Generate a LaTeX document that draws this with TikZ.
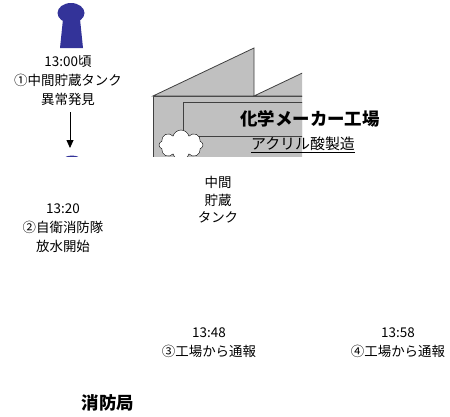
\documentclass[tikz,border=0pt]{standalone}
\usepackage{fontspec}
\setmainfont{Noto Sans CJK JP}
\usetikzlibrary{arrows.meta,shapes.symbols}
\definecolor{navy}{HTML}{333399}
\definecolor{roofgray}{HTML}{C0C0C0}
\begin{document}
\begin{tikzpicture}[
    x=1bp, y=-1bp,
    note/.style={align=center, inner sep=1pt, font=\fontsize{13.5}{19}\selectfont},
    heading/.style={inner sep=1pt, font=\fontsize{17.5}{20}\selectfont\bfseries},
    staff/.style={fill=navy},
    wall/.style={draw=black!75, fill=roofgray, line width=0.8bp},
    flow/.style={draw, line width=0.8bp, -{Triangle[width=7bp,length=8bp]}},
  ]
  \useasboundingbox (0,0) rectangle (450,416);
  % worker at the tank
  \fill[staff] (71,13) ellipse [x radius=13.5bp, y radius=10bp];
  \fill[staff] (63,19) -- (80,19) -- (83,48) -- (60,48) -- cycle;
  % building and fire crew, cut off below
  \begin{scope}
    \clip (0,0) rectangle (302,156);
    \fill[staff] (72,165.6) ellipse [x radius=13.5bp, y radius=10bp];
    \path[wall] (153,96) rectangle (370,200);
    \path[wall] (153,96) -- (254,48) -- (254,96) -- cycle;
    \path[wall] (254,96) -- (355,48) -- (355,96) -- cycle;
    \path[wall] (183,102) rectangle (370,136);
    \node[cloud, cloud puffs=8, cloud ignores aspect, draw, fill=white,
      minimum width=44bp, minimum height=30bp] (smoke) at (181,145) {};
  \end{scope}
  % time line of the reports
  \foreach \pos/\name/\lines in {
      {(68,81)/find/13:00頃\\①中間貯蔵タンク\\異常発見},
      {(63,228)/spray/13:20\\②自衛消防隊\\放水開始},
      {(209,343)/call1/13:48\\③工場から通報},
      {(398,343)/call2/13:58\\④工場から通報}}
    \node[note] (\name) at \pos {\lines};
  \node[note, font=\fontsize{13.5}{17.5}\selectfont] (tank) at (218,200) {中間\\貯蔵\\タンク};
  \node[heading] (factory) at (310,119) {化学メーカー工場};
  \node[inner sep=1pt, font=\fontsize{15}{18}\selectfont] (plant) at (303,145) {\underline{アクリル酸製造}};
  \node[heading] (firedept) at (108,403) {消防局};
  \coordinate (guard) at (70,148);
  \draw[flow, shorten <=5bp] (find.south -| guard) -- (guard);
\end{tikzpicture}
\end{document}
